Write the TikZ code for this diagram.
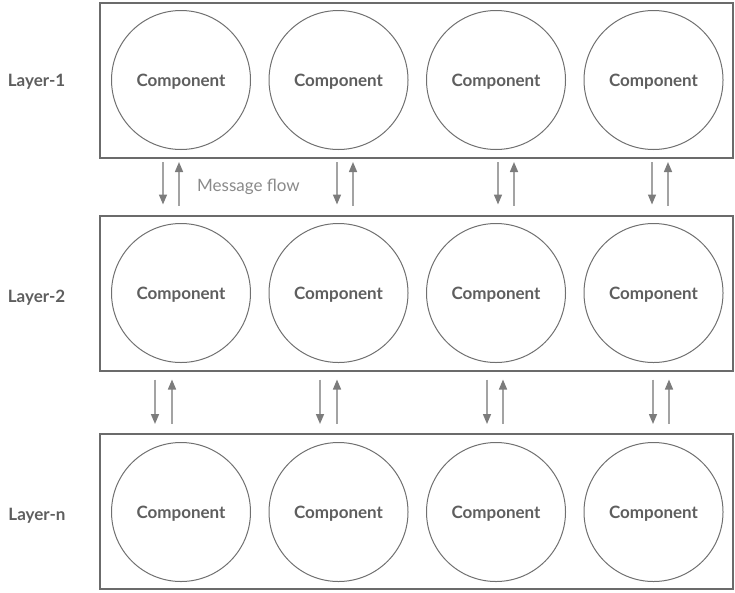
\documentclass[tikz,border=0pt]{standalone}
\usepackage{fontspec}
\setmainfont{Lato}
\usetikzlibrary{arrows.meta}

\definecolor{boxgray}{HTML}{6B6B6B}
\definecolor{circgray}{HTML}{707070}
\definecolor{textgray}{HTML}{5E5E5E}
\definecolor{flowgray}{HTML}{A3A3A3}
\definecolor{tipgray}{HTML}{7C7C7C}
\definecolor{notegray}{HTML}{8A8A8A}

\tikzset{
  layerbox/.style={draw=boxgray, line width=2pt, outer sep=0pt,
    minimum width=633pt, minimum height=155pt},
  comp/.style={circle, draw=circgray, line width=1pt, inner sep=0pt, text depth=0pt,
    minimum size=139pt, text=textgray, font=\bfseries\fontsize{17}{20}\selectfont},
  layerlabel/.style={text=textgray, inner sep=0pt, text depth=0pt,
    font=\bfseries\fontsize{17}{20}\selectfont},
  flow/.style={draw=flowgray, line width=1.5pt,
    -{Triangle[length=10pt,width=8pt,color=tipgray]}},
}

\begin{document}
\begin{tikzpicture}[x=1pt,y=-1pt]
        \useasboundingbox (0,0) rectangle (735,592);
        % layer boxes
        \node[layerbox] (L1) at (416.5,80.5) {};
        \node[layerbox] (L2) at (416.5,293) {};
        \node[layerbox] (Ln) at (416.5,511.5) {};
        % layer names
        \node[layerlabel] (n1) at (36.5,80.5) {Layer-1};
        \node[layerlabel] (n2) at (36.5,296) {Layer-2};
        \node[layerlabel] (nn) at (37,514) {Layer-n};
        % components of layer 1
        \node[comp] (c11) at (181,80) {Component};
        \node[comp] (c12) at (338.5,80) {Component};
        \node[comp] (c13) at (496,80) {Component};
        \node[comp] (c14) at (653.5,80) {Component};
        % components of layer 2
        \node[comp] (c21) at (181,293) {Component};
        \node[comp] (c22) at (338.5,293) {Component};
        \node[comp] (c23) at (496,293) {Component};
        \node[comp] (c24) at (653.5,293) {Component};
        % components of layer n
        \node[comp] (cn1) at (181,512) {Component};
        \node[comp] (cn2) at (338.5,512) {Component};
        \node[comp] (cn3) at (496,512) {Component};
        \node[comp] (cn4) at (653.5,512) {Component};
        % flow between layer 1 and layer 2
        \draw[flow] ([xshift=63pt,yshift=-4pt]L1.south west) -- ([xshift=63pt,yshift=11pt]L2.north west);
        \draw[flow] ([xshift=79pt,yshift=10pt]L2.north west) -- ([xshift=79pt,yshift=-4pt]L1.south west);
        \draw[flow] ([xshift=237pt,yshift=-4pt]L1.south west) -- ([xshift=237pt,yshift=11pt]L2.north west);
        \draw[flow] ([xshift=253pt,yshift=10pt]L2.north west) -- ([xshift=253pt,yshift=-4pt]L1.south west);
        \draw[flow] ([xshift=398pt,yshift=-4pt]L1.south west) -- ([xshift=398pt,yshift=11pt]L2.north west);
        \draw[flow] ([xshift=414pt,yshift=10pt]L2.north west) -- ([xshift=414pt,yshift=-4pt]L1.south west);
        \draw[flow] ([xshift=552pt,yshift=-4pt]L1.south west) -- ([xshift=552pt,yshift=11pt]L2.north west);
        \draw[flow] ([xshift=568pt,yshift=10pt]L2.north west) -- ([xshift=568pt,yshift=-4pt]L1.south west);
        \node[text=notegray, inner sep=0pt, anchor=west, font=\fontsize{17}{20}\selectfont]
          (msg) at (197,187) {Message flow};
        % flow between layer 2 and layer n
        \draw[flow] ([xshift=55pt,yshift=-9pt]L2.south west) -- ([xshift=55pt,yshift=10pt]Ln.north west);
        \draw[flow] ([xshift=72pt,yshift=10pt]Ln.north west) -- ([xshift=72pt,yshift=-9pt]L2.south west);
        \draw[flow] ([xshift=220pt,yshift=-9pt]L2.south west) -- ([xshift=220pt,yshift=10pt]Ln.north west);
        \draw[flow] ([xshift=237pt,yshift=10pt]Ln.north west) -- ([xshift=237pt,yshift=-9pt]L2.south west);
        \draw[flow] ([xshift=387pt,yshift=-9pt]L2.south west) -- ([xshift=387pt,yshift=10pt]Ln.north west);
        \draw[flow] ([xshift=403pt,yshift=10pt]Ln.north west) -- ([xshift=403pt,yshift=-9pt]L2.south west);
        \draw[flow] ([xshift=553pt,yshift=-9pt]L2.south west) -- ([xshift=553pt,yshift=10pt]Ln.north west);
        \draw[flow] ([xshift=569pt,yshift=10pt]Ln.north west) -- ([xshift=569pt,yshift=-9pt]L2.south west);
      \end{tikzpicture}
\end{document}
